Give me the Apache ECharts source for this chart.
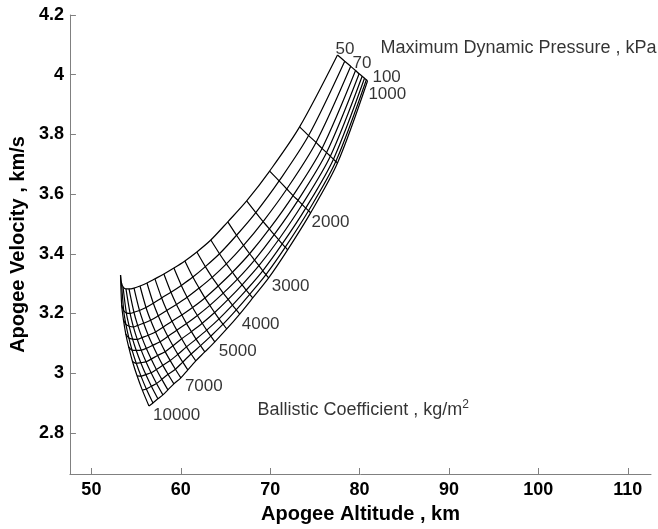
<!DOCTYPE html>
<html>
<head>
<meta charset="utf-8">
<script src="https://cdn.jsdelivr.net/npm/echarts@6/dist/echarts.min.js"></script>
<style>
html,body{margin:0;padding:0;background:#fff;}
#c{width:658px;height:529px;}
</style>
</head>
<body>
<div id="c"></div>
<script>
// Ballistic coefficient values (kg/m^2), one node per value along each q line
const beta = [1000,1500,2000,2500,3000,3500,4000,4500,5000,5500,6000,6500,7000,7500,8000,8500,9000,9500,10000];
// Maximum dynamic pressure values (kPa)
const qValues = [50,70,100,150,200,300,400,500,1000];

// Apogee altitude (km) / velocity (km/s) per q line, at each beta
const altQ50  = [77.53,73.29,69.94,67.37,65.26,63.36,61.80,60.46,59.23,58.11,57.11,56.22,55.44,54.77,54.21,53.87,53.54,53.37,53.26];
const velQ50  = [4.066,3.825,3.677,3.577,3.507,3.446,3.406,3.376,3.352,3.332,3.316,3.302,3.292,3.285,3.282,3.282,3.289,3.302,3.329];
const altQ70  = [78.34,74.30,71.00,68.39,66.24,64.33,62.75,61.35,60.06,58.90,57.86,56.93,56.11,55.38,54.76,54.33,53.91,53.62,53.39];
const velQ70  = [4.045,3.796,3.644,3.538,3.462,3.400,3.357,3.322,3.294,3.271,3.252,3.234,3.220,3.210,3.204,3.200,3.202,3.209,3.228];
const altQ100 = [79.01,75.13,71.86,69.21,67.02,65.10,63.51,62.05,60.71,59.52,58.44,57.48,56.63,55.85,55.18,54.70,54.23,53.86,53.58];
const velQ100 = [4.028,3.773,3.617,3.508,3.428,3.366,3.321,3.285,3.254,3.230,3.210,3.192,3.177,3.167,3.160,3.155,3.157,3.163,3.180];
const altQ150 = [79.55,75.80,72.56,69.91,67.70,65.78,64.19,62.70,61.32,60.12,59.02,58.04,57.18,56.36,55.66,55.13,54.61,54.19,53.85];
const velQ150 = [4.014,3.753,3.595,3.483,3.400,3.338,3.292,3.252,3.220,3.195,3.174,3.154,3.138,3.127,3.119,3.113,3.114,3.118,3.131];
const altQ200 = [79.95,76.31,73.11,70.45,68.25,66.34,64.75,63.25,61.86,60.65,59.55,58.56,57.69,56.86,56.14,55.57,55.02,54.55,54.17];
const velQ200 = [4.003,3.739,3.579,3.464,3.379,3.315,3.268,3.227,3.193,3.166,3.144,3.123,3.105,3.093,3.083,3.077,3.076,3.077,3.088];
const altQ300 = [80.29,76.73,73.58,70.94,68.74,66.86,65.30,63.79,62.40,61.19,60.10,59.12,58.25,57.41,56.69,56.11,55.53,55.02,54.60];
const velQ300 = [3.995,3.727,3.565,3.447,3.360,3.296,3.247,3.203,3.167,3.139,3.115,3.092,3.072,3.059,3.047,3.038,3.035,3.033,3.039];
const altQ400 = [80.55,77.08,73.98,71.35,69.17,67.32,65.78,64.28,62.90,61.71,60.64,59.68,58.82,57.99,57.27,56.68,56.09,55.55,55.11];
const velQ400 = [3.988,3.717,3.553,3.433,3.343,3.278,3.228,3.182,3.144,3.114,3.088,3.063,3.042,3.026,3.012,3.001,2.995,2.990,2.991];
const altQ500 = [80.76,77.34,74.29,71.69,69.53,67.71,66.21,64.73,63.36,62.21,61.16,60.22,59.40,58.58,57.88,57.29,56.71,56.15,55.70];
const velQ500 = [3.983,3.709,3.544,3.422,3.330,3.264,3.212,3.164,3.124,3.092,3.064,3.037,3.013,2.996,2.979,2.965,2.956,2.947,2.943];
const altQ1000 = [80.89,77.53,74.52,71.95,69.83,68.05,66.59,65.14,63.81,62.69,61.68,60.79,60.01,59.23,58.56,58.00,57.44,56.89,56.44];
const velQ1000 = [3.979,3.704,3.537,3.413,3.319,3.252,3.198,3.148,3.105,3.071,3.041,3.011,2.984,2.964,2.944,2.927,2.914,2.900,2.890];

// Axis tick values
const xTicks = [50,60,70,80,90,100,110];
const yTicks = [2.8,3.0,3.2,3.4,3.6,3.8,4.0,4.2];

// Annotation texts and anchor (altitude, velocity)
const annoText = ['50','70','100','1000','Maximum Dynamic Pressure , kPa','2000','3000','4000','5000','7000','10000','Ballistic Coefficient , kg/m{sup|2}'];
const annoAlt  = [77.31,79.21,81.44,80.99,82.33,74.63,70.17,66.82,64.25,60.46,56.89,68.58];
const annoVel  = [4.086,4.038,3.991,3.934,4.089,3.505,3.292,3.165,3.074,2.957,2.860,2.877];
const annoSize = [17,17,17,17,18,17,17,17,17,17,17,18];

const altRows = [altQ50,altQ70,altQ100,altQ150,altQ200,altQ300,altQ400,altQ500,altQ1000];
const velRows = [velQ50,velQ70,velQ100,velQ150,velQ200,velQ300,velQ400,velQ500,velQ1000];

const lineStyle = {color:'#000', width:1.2};
const series = [];
// constant-q lines
qValues.forEach((q,k)=>{
  series.push({
    type:'line', name:'q'+q, symbol:'none', silent:true, smooth:0.3,
    lineStyle: lineStyle,
    data: beta.map((b,i)=>[altRows[k][i], velRows[k][i]])
  });
});
// constant-beta lines
beta.forEach((b,i)=>{
  series.push({
    type:'line', name:'b'+b, symbol:'none', silent:true, smooth:0.3,
    lineStyle: lineStyle,
    data: qValues.map((q,k)=>[altRows[k][i], velRows[k][i]])
  });
});
// annotations
const txtFont = 'Liberation Sans, Arial, sans-serif';
series.push({
  type:'scatter', symbolSize:0, silent:true,
  data: annoText.map((t,j)=>({value:[annoAlt[j],annoVel[j]], name:t,
    label:{fontSize:annoSize[j]}})),
  label:{
    show:true, position:'right', distance:0,
    formatter: p => p.name,
    fontFamily:txtFont, fontSize:17, color:'#000',
    rich:{ sup:{fontSize:12, verticalAlign:'top', padding:[0,0,10,0], fontFamily:txtFont, color:'#000'} }
  }
});

const axisFont = {fontFamily:txtFont, fontWeight:'bold', color:'#000'};
const chart = echarts.init(document.getElementById('c'), null, {renderer:'canvas'});
chart.setOption({
  animation:false,
  backgroundColor:'#fff',
  grid:{left:69, right:7, top:15, bottom:55, containLabel:false},
  xAxis:{
    type:'value', min:47.6, max:112.6,
    name:'Apogee Altitude , km', nameLocation:'middle', nameGap:30,
    nameTextStyle:Object.assign({fontSize:20}, axisFont),
    axisLine:{show:true, lineStyle:{color:'#808080', width:1}},
    axisTick:{show:true, inside:true, length:6, customValues:xTicks, lineStyle:{color:'#808080'}},
    axisLabel:Object.assign({fontSize:18, margin:7, customValues:xTicks}, axisFont),
    splitLine:{show:false}
  },
  yAxis:{
    type:'value', min:2.662, max:4.2,
    name:'Apogee Velocity , km/s', nameLocation:'middle', nameGap:39, nameRotate:90,
    nameTextStyle:Object.assign({fontSize:20}, axisFont),
    axisLine:{show:true, lineStyle:{color:'#808080', width:1}},
    axisTick:{show:true, inside:true, length:6, customValues:yTicks, lineStyle:{color:'#808080'}},
    axisLabel:Object.assign({fontSize:18, margin:6, customValues:yTicks, formatter:v=>String(+v.toFixed(1))}, axisFont),
    splitLine:{show:false}
  },
  series: series
});
</script>
</body>
</html>
